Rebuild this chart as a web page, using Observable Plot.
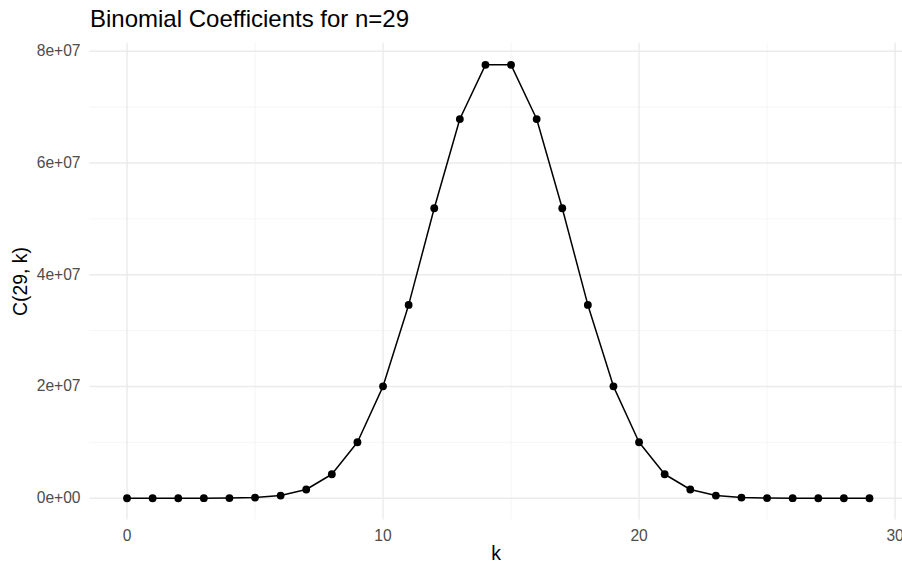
<!DOCTYPE html>
<html>
<head>
<meta charset="utf-8">
<script src="https://cdn.jsdelivr.net/npm/d3@7"></script>
<script src="https://cdn.jsdelivr.net/npm/@observablehq/plot@0.6"></script>
<style>
  html, body { margin: 0; padding: 0; background: #fff; overflow: hidden; }
  body { width: 902px; height: 564px; font-family: "Liberation Sans", Arial, sans-serif; }
  #title { height: 40px; position: relative; }
  #title span { position: absolute; left: 90px; top: 7.4px; font-size: 24px; line-height: 1; color: #000; white-space: nowrap; }
  #chart svg { overflow: visible; }
</style>
</head>
<body>
<div id="title"><span>Binomial Coefficients for n=29</span></div>
<div id="chart"></div>
<script>
// Data
const k = [0,1,2,3,4,5,6,7,8,9,10,11,12,13,14,15,16,17,18,19,20,21,22,23,24,25,26,27,28,29];
const coef = [1, 29, 406, 3654, 23751, 118755, 475020, 1560780, 4292145, 10015005,
  20030010, 34597290, 51895935, 67863915, 77558760, 77558760, 67863915, 51895935, 34597290, 20030010,
  10015005, 4292145, 1560780, 475020, 118755, 23751, 3654, 406, 29, 1];
const xMajor = [0, 10, 20, 30];
const xMinor = [5, 15, 25];
const yMajor = [0, 20000000, 40000000, 60000000, 80000000];
const yTickLabels = ["0e+00", "2e+07", "4e+07", "6e+07", "8e+07"];
const yMinor = [10000000, 30000000, 50000000, 70000000];

const data = k.map((d, i) => ({k: d, c: coef[i]}));

const chart = Plot.plot({
  width: 902,
  height: 524,
  marginLeft: 89.4,
  marginRight: 0,
  marginTop: 2.7,
  marginBottom: 44.6,
  style: {fontFamily: '"Liberation Sans", Arial, sans-serif', background: "#fff"},
  x: {domain: [-1.45, 30.29]},
  y: {domain: [-3878000, 81437000]},
  marks: [
    Plot.ruleX(xMinor, {stroke: "#f1f1f1", strokeWidth: 0.7}),
    Plot.ruleY(yMinor, {stroke: "#f1f1f1", strokeWidth: 0.7}),
    Plot.ruleX(xMajor, {stroke: "#ebebeb", strokeWidth: 1.4}),
    Plot.ruleY(yMajor, {stroke: "#ebebeb", strokeWidth: 1.4}),
    Plot.axisX({ticks: xMajor, tickSize: 0, tickPadding: 10,
      label: "k", labelAnchor: "center", labelArrow: false, labelOffset: 40}),
    Plot.axisY({ticks: yMajor, tickFormat: (d) => yTickLabels[yMajor.indexOf(d)], tickSize: 0, tickPadding: 9.4,
      label: "C(29, k)", labelAnchor: "center", labelArrow: false, labelOffset: 77}),
    Plot.line(data, {x: "k", y: "c", stroke: "#000", strokeWidth: 1.5}),
    Plot.dot(data, {x: "k", y: "c", fill: "#000", r: 3.9})
  ]
});
document.getElementById("chart").appendChild(chart);
const sel = d3.select(chart);
sel.selectAll('[aria-label="x-axis tick label"], [aria-label="y-axis tick label"]').attr("fill", "#4d4d4d").attr("font-size", 15.6);
sel.selectAll('[aria-label="x-axis label"], [aria-label="y-axis label"]').attr("font-size", 19.4).attr("fill", "#000");
</script>
</body>
</html>
